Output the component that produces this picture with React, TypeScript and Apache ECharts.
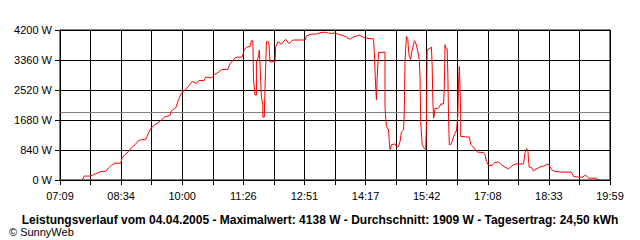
import React, { useEffect, useRef } from "react";
import * as echarts from "echarts";

const tickLabels = ["07:09", "08:34", "10:00", "11:26", "12:51", "14:17", "15:42", "17:08", "18:33", "19:59"];
const yTicks = [0, 840, 1680, 2520, 3360, 4200];
const averageW = 1909;
const titleText = "Leistungsverlauf vom 04.04.2005 - Maximalwert: 4138 W - Durchschnitt: 1909 W - Tagesertrag: 24,50 kWh";
const creditText = "© SunnyWeb";

const times = [
  "07:40", "07:43", "07:51", "07:56", "08:02", "08:06", "08:13", "08:17", "08:21", "08:25",
  "08:34", "08:36", "08:40", "08:45", "08:49", "08:54", "08:59", "09:03", "09:09", "09:13",
  "09:17", "09:22", "09:29", "09:35", "09:43", "09:45", "09:51", "09:55", "09:59", "10:06",
  "10:10", "10:14", "10:20", "10:23", "10:31", "10:33", "10:41", "10:45", "10:51", "10:55",
  "11:04", "11:07", "11:14", "11:18", "11:24", "11:27", "11:30", "11:35", "11:37", "11:39",
  "11:40", "11:42", "11:44", "11:44", "11:47", "11:48", "11:49", "11:50", "11:51", "11:53",
  "11:53", "11:55", "11:56", "11:58", "12:01", "12:02", "12:03", "12:10", "12:11", "12:14",
  "12:17", "12:19", "12:23", "12:25", "12:29", "12:31", "12:35", "12:52", "12:54", "12:59",
  "13:08", "13:13", "13:18", "13:22", "13:25", "13:34", "13:39", "13:46", "13:50", "13:55",
  "13:59", "14:04", "14:08", "14:13", "14:18", "14:28", "14:29", "14:31", "14:32", "14:33",
  "14:35", "14:44", "14:44", "14:46", "14:49", "14:50", "14:51", "14:53", "14:58", "15:01",
  "15:03", "15:05", "15:07", "15:10", "15:11", "15:12", "15:14", "15:16", "15:17", "15:18",
  "15:20", "15:21", "15:24", "15:25", "15:27", "15:30", "15:32", "15:33", "15:34", "15:36",
  "15:39", "15:41", "15:42", "15:43", "15:47", "15:49", "15:50", "15:51", "15:52", "15:53",
  "15:54", "15:58", "16:00", "16:02", "16:06", "16:07", "16:08", "16:09", "16:11", "16:12",
  "16:13", "16:14", "16:16", "16:18", "16:21", "16:23", "16:24", "16:26", "16:27", "16:28",
  "16:29", "16:30", "16:30", "16:42", "16:44", "16:48", "16:50", "16:54", "17:02", "17:04",
  "17:06", "17:09", "17:14", "17:18", "17:23", "17:27", "17:32", "17:37", "17:40", "17:44",
  "17:48", "17:58", "18:00", "18:02", "18:04", "18:05", "18:06", "18:09", "18:12", "18:14",
  "18:19", "18:23", "18:28", "18:31", "18:34", "18:37", "18:42", "18:50", "19:05", "19:08",
  "19:15", "19:21", "19:23", "19:26", "19:29", "19:40", "19:42",
];

const watts = [
  0, 110, 110, 150, 200, 240, 240, 340, 410, 470,
  470, 620, 710, 800, 900, 990, 1100, 1130, 1130, 1320,
  1460, 1550, 1640, 1760, 1810, 1940, 2020, 2250, 2440, 2560,
  2650, 2760, 2700, 2780, 2790, 2880, 2860, 2950, 3020, 3090,
  3100, 3250, 3420, 3440, 3440, 3650, 3720, 3740, 3900, 3900,
  2800, 2380, 2380, 3310, 3450, 3640, 3270, 2750, 2330, 2100,
  1760, 1760, 2570, 3870, 3870, 3690, 3310, 3310, 3730, 3870,
  3830, 3800, 3900, 3940, 3830, 3840, 3920, 3920, 4030, 4080,
  4090, 4120, 4138, 4130, 4110, 4110, 4080, 4040, 4000, 3940,
  4000, 4030, 4060, 4000, 3970, 3950, 3560, 2580, 2250, 2860,
  3570, 3580, 2020, 1500, 1400, 1080, 850, 990, 1010, 920,
  940, 1080, 1340, 1410, 1920, 3320, 4020, 3930, 3600, 3460,
  3370, 3560, 3790, 3900, 3840, 3600, 3370, 2900, 1640, 990,
  880, 850, 1550, 3640, 3690, 3720, 3220, 2240, 1730, 1820,
  2010, 2000, 2040, 2130, 2130, 2580, 3790, 3700, 3680, 2950,
  1740, 990, 990, 1080, 1270, 1360, 1360, 1830, 2720, 3180,
  2620, 1830, 1220, 1200, 990, 920, 850, 780, 770, 710,
  520, 410, 410, 500, 500, 430, 360, 310, 360, 430,
  450, 450, 760, 880, 850, 520, 360, 350, 250, 290,
  340, 380, 400, 450, 410, 290, 240, 220, 220, 100,
  80, 80, 120, 120, 50, 50, 0,
];

const toMin = (s: string) => {
  const [h, m] = s.split(":").map(Number);
  return h * 60 + m;
};
const startMin = toMin(tickLabels[0]);
const endMin = toMin(tickLabels[tickLabels.length - 1]);
const steps = (tickLabels.length - 1) * 2;
const unit = (endMin - startMin) / steps;

export default function App() {
  const ref = useRef<HTMLDivElement>(null);
  useEffect(() => {
    if (!ref.current) return;
    const chart = echarts.init(ref.current, undefined, { renderer: "svg" });
    const font = "Liberation Sans";
    const data = times.map((t, i) => [(toMin(t) - startMin) / unit, watts[i]]);
    chart.setOption({
      animation: false,
      backgroundColor: "#ffffff",
      grid: { left: 60, right: 30, top: 30, bottom: 60, containLabel: false, show: false },
      title: [
        {
          text: titleText,
          left: "center",
          top: 209,
          textStyle: { fontFamily: font, fontSize: 12, fontWeight: "bold", color: "#000" },
        },
        {
          text: creditText,
          left: 4,
          top: 221,
          textStyle: { fontFamily: font, fontSize: 11, fontWeight: "normal", color: "#000" },
        },
      ],
      xAxis: {
        type: "value",
        min: 0,
        max: steps,
        interval: 1,
        axisLine: { show: true, lineStyle: { color: "#000", width: 1 } },
        axisTick: { show: true, length: 5, lineStyle: { color: "#000", width: 1 } },
        splitLine: { show: true, lineStyle: { color: "#000", width: 1 } },
        axisLabel: {
          fontFamily: font,
          fontSize: 11,
          color: "#000",
          margin: 10,
          formatter: (v: number) => {
            const r = Math.round(v);
            return r % 2 === 0 ? tickLabels[r / 2] : "";
          },
        },
      },
      yAxis: {
        type: "value",
        min: yTicks[0],
        max: yTicks[yTicks.length - 1],
        interval: yTicks[1] - yTicks[0],
        axisLine: { show: true, lineStyle: { color: "#000", width: 1 } },
        axisTick: { show: true, length: 5, lineStyle: { color: "#000", width: 1 } },
        splitLine: { show: true, lineStyle: { color: "#000", width: 1 } },
        axisLabel: {
          fontFamily: font,
          fontSize: 11,
          color: "#000",
          margin: 8,
          formatter: (v: number) => `${v} W`,
        },
      },
      series: [
        {
          type: "line",
          data,
          showSymbol: false,
          symbol: "none",
          lineStyle: { color: "#ff0000", width: 1 },
          z: 5,
          markLine: {
            silent: true,
            symbol: "none",
            label: { show: false },
            lineStyle: { color: "#808080", type: "solid", width: 1 },
            data: [{ yAxis: averageW }],
            z: 3,
          },
        },
      ],
      graphic: [
        {
          type: "rect",
          shape: { x: 60, y: 30, width: 550, height: 150 },
          style: { fill: "none", stroke: "#000", lineWidth: 1 },
          silent: true,
          z: 10,
        },
      ],
    });
    return () => chart.dispose();
  }, []);
  return <div ref={ref} style={{ position: "fixed", left: 0, top: 0, width: 640, height: 240 }} />;
}
